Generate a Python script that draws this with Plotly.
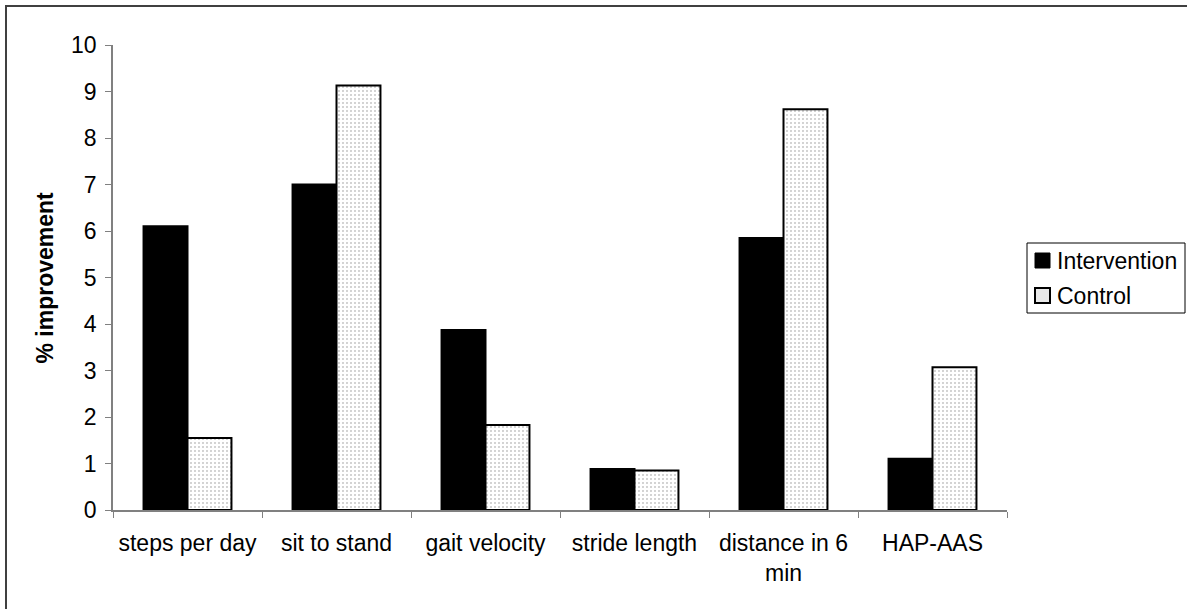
import plotly.graph_objects as go

categories = ["steps per day", "sit to stand", "gait velocity", "stride length", "distance in 6<br>min", "HAP-AAS"]
intervention = [6.1, 7.0, 3.87, 0.88, 5.85, 1.1]
control = [1.55, 9.13, 1.83, 0.85, 8.62, 3.07]
series_names = ["Intervention", "Control"]
y_ticks = list(range(0, 11))

FONT = "Liberation Sans, Arial, sans-serif"
FS = 23
W, H = 1187, 609
ML, MR, MT, MB = 113, 180, 45, 99
pw = W - ML - MR
ph = H - MT - MB


def px_x(x):
    return (x - ML) / pw


def px_y(y):
    return (MT + ph - y) / ph


fig = go.Figure()
fig.add_trace(go.Bar(
    name=series_names[0], x=categories, y=intervention,
    marker=dict(color="black", line=dict(color="black", width=2)),
))
fig.add_trace(go.Bar(
    name=series_names[1], x=categories, y=control,
    marker=dict(color="white", line=dict(color="black", width=2),
                pattern=dict(shape=".", fgcolor="black", bgcolor="white", size=4, solidity=0.08)),
))

shapes = [
    # outer chart border (right/bottom edges fall outside the image)
    dict(type="rect", xref="paper", yref="paper",
         x0=px_x(6), x1=px_x(1220), y0=px_y(640), y1=px_y(6),
         line=dict(color="#404040", width=2), fillcolor="rgba(0,0,0,0)", layer="below"),
    # legend box
    dict(type="rect", xref="paper", yref="paper",
         x0=px_x(1027), x1=px_x(1185), y0=px_y(313), y1=px_y(243),
         line=dict(color="black", width=1), fillcolor="white"),
    # legend symbols
    dict(type="rect", xref="paper", yref="paper",
         x0=px_x(1035), x1=px_x(1050), y0=px_y(268), y1=px_y(253),
         line=dict(color="black", width=1), fillcolor="black"),
    dict(type="rect", xref="paper", yref="paper",
         x0=px_x(1035), x1=px_x(1050), y0=px_y(303), y1=px_y(288),
         line=dict(color="black", width=2), fillcolor="#e8e8e8"),
]

annotations = [
    dict(text="<b>% improvement</b>", x=px_x(44), y=0.5, xref="paper", yref="paper",
         xanchor="center", yanchor="middle", textangle=-90, showarrow=False,
         font=dict(family=FONT, size=FS, color="black")),
    dict(text=series_names[0], x=px_x(1055), y=px_y(261), xref="paper", yref="paper",
         xanchor="left", yanchor="middle", showarrow=False,
         font=dict(family=FONT, size=FS, color="black")),
    dict(text=series_names[1], x=px_x(1055), y=px_y(296), xref="paper", yref="paper",
         xanchor="left", yanchor="middle", showarrow=False,
         font=dict(family=FONT, size=FS, color="black")),
]

fig.update_layout(
    width=W, height=H,
    margin=dict(l=ML, r=MR, t=MT, b=MB, autoexpand=False),
    paper_bgcolor="white", plot_bgcolor="white",
    barmode="group", bargap=0.41, bargroupgap=0,
    font=dict(family=FONT, size=FS, color="black"),
    showlegend=False,
    xaxis=dict(type="category", showline=True, linecolor="#808080", linewidth=1.5,
               ticks="outside", tickson="boundaries", ticklen=6, tickcolor="#808080",
               showgrid=False, zeroline=False, tickfont=dict(size=FS), automargin=False,
               ticklabelstandoff=12),
    yaxis=dict(range=[0, 10], tickvals=y_ticks, showline=True, linecolor="#808080", linewidth=1.5,
               ticks="outside", ticklen=6, tickcolor="#808080", showgrid=False, zeroline=False,
               tickfont=dict(size=FS), automargin=False, ticklabelstandoff=4),
    annotations=annotations,
    shapes=shapes,
)

fig.write_html("out.html")
